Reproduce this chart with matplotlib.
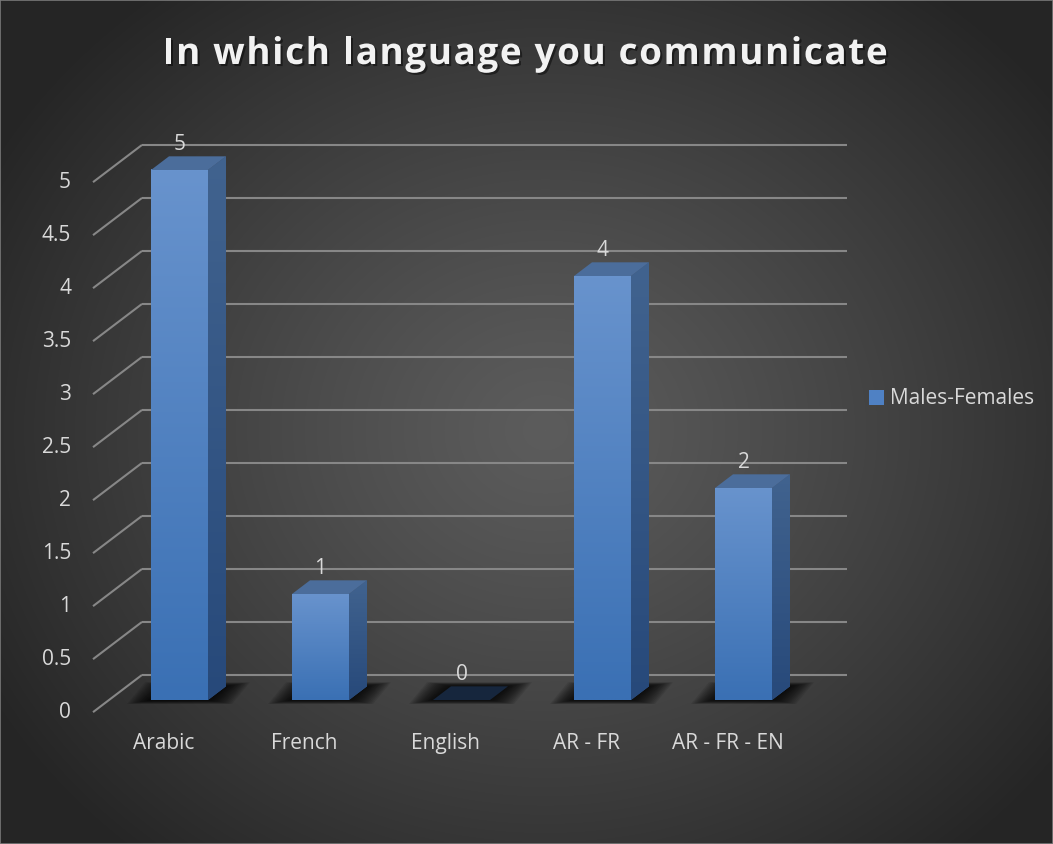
import numpy as np
import matplotlib.pyplot as plt
import matplotlib.patheffects as pe
from matplotlib.colors import to_rgb
from matplotlib.patches import Polygon, Patch, Rectangle

# chart data
categories = ['Arabic', 'French', 'English', 'AR - FR', 'AR - FR - EN']
values = [5, 1, 0, 4, 2]
series_name = 'Males-Females'
title = 'In which language you communicate'
yticks = np.arange(0, 5.5, 0.5)
ytick_labels = ['0', '0.5', '1', '1.5', '2', '2.5', '3', '3.5', '4', '4.5', '5']

plt.rcParams['font.family'] = ['Open Sans', 'DejaVu Sans']

W, H = 1053, 844
fig = plt.figure(figsize=(W / 100, H / 100), dpi=100)

# dark radial background
bg = fig.add_axes([0, 0, 1, 1])
bg.axis('off')
yy, xx = np.mgrid[0:H, 0:W]
r = np.sqrt(((xx - 545) / 640.0) ** 2 + ((yy - 430) / 560.0) ** 2)
r = np.clip(r, 0, 1)
inner, outer = 0x5c / 255, 0x25 / 255
shade = inner + (outer - inner) * r ** 1.2
bg.imshow(np.dstack([shade] * 3), extent=[0, 1, 0, 1], aspect='auto')
bg.set_xlim(0, 1)
bg.set_ylim(0, 1)
fig.patches.append(Rectangle((0, 0), 1, 1, transform=fig.transFigure, fill=False,
                             ec='#7a7a7a', lw=1.2))

# the bar front plane: one category per 141 px, one value unit per 106 px,
# category -0.5 at x=109 px and value 0 at 700 px from the top
XMIN, XMAX, YMAX = -0.5, 4.5, 5
PX = (XMAX - XMIN) / 705.0
PY = YMAX / 530.0
ax = fig.add_axes([0, 0, 1, 1])
ax.axis('off')
LIMX = (XMIN - 109 * PX, XMIN + (W - 109) * PX)
LIMY = ((700 - H) * PY, 700 * PY)
SLOPE = 0.76


def shift(x, y, d):
    # oblique depth: d pixels to the right and d*SLOPE up
    return (x + d * PX, y + d * SLOPE * PY)


BACK, FRONT, DEPTH = 33, -16, 18
grid_kw = dict(color='#878787', lw=1.5, solid_capstyle='butt', zorder=1)

for t in yticks:
    x0, y0 = shift(XMIN, t, BACK)
    x1, y1 = shift(XMAX, t, BACK)
    ax.plot([x0, x1], [y0, y1], **grid_kw)
    fx, fy = shift(XMIN, t, FRONT)
    ax.plot([fx, x0], [fy, y0], **grid_kw)

for t, lab in zip(yticks, ytick_labels):
    ax.annotate(lab, xy=shift(XMIN, t, FRONT), xytext=(-22, 0), textcoords='offset pixels',
                ha='right', va='center', fontsize=15, color='#d9d9d9')


def vgrad(top, bottom, n=128):
    top, bottom = np.array(to_rgb(top)), np.array(to_rgb(bottom))
    f = np.linspace(0, 1, n)[:, None]
    return (top * (1 - f) + bottom * f)[:, None, :]


front_grad = vgrad('#6893cd', '#3a70b4')
side_grad = vgrad('#41638f', '#27497a')
w = 57 * PX

for i, (cat, v) in enumerate(zip(categories, values)):
    xl, xr = i - w / 2, i + w / 2

    # soft floor shadow
    n = 14
    for k in range(n):
        e = 24 * (1 - k / n)
        ey = 4 * (1 - k / n)
        pts = [(xl - e * PX, -ey * PY), (xr + e * PX, -ey * PY),
               shift(xr + e * PX, ey * PY, DEPTH), shift(xl - e * PX, ey * PY, DEPTH)]
        ax.add_patch(Polygon(pts, closed=True, fc='black', ec='none', alpha=0.09, zorder=2))

    if v > 0:
        ax.imshow(front_grad, extent=(xl, xr, 0, v), aspect='auto', zorder=3,
                  interpolation='bilinear')
        side = Polygon([(xr, 0), shift(xr, 0, DEPTH), shift(xr, v, DEPTH), (xr, v)],
                       closed=True, fc='#33568a', ec='none', zorder=3)
        ax.add_patch(side)
        sx1, sy1 = shift(xr, v, DEPTH)
        im = ax.imshow(side_grad, extent=(xr, sx1, 0, sy1), aspect='auto', zorder=3.1,
                       interpolation='bilinear')
        im.set_clip_path(side)
        top_color = '#4b6d9b'
    else:
        top_color = '#16263d'

    ax.add_patch(Polygon([(xl, v), (xr, v), shift(xr, v, DEPTH), shift(xl, v, DEPTH)],
                         closed=True, fc=top_color, ec='none', zorder=3.2))

    ax.annotate(str(v), xy=(i, v), xytext=(0, 25), textcoords='offset pixels',
                ha='center', va='center', fontsize=15, color='#d9d9d9', zorder=4)
    ax.annotate(cat, xy=shift(i, 0, FRONT), xytext=(0, -31), textcoords='offset pixels',
                ha='center', va='center', fontsize=15, color='#d9d9d9')

ax.set_xlim(*LIMX)
ax.set_ylim(*LIMY)

fig.legend(handles=[Patch(facecolor='#4f81c4', edgecolor='none', label=series_name)],
           loc='center left', bbox_to_anchor=(869 / W, 1 - 399 / H), frameon=False,
           borderpad=0, borderaxespad=0, handlelength=0.72, handleheight=0.72,
           handletextpad=0.3, fontsize=15, labelcolor='#d9d9d9')

# spaced-out bold title, laid out one character at a time
renderer = fig.canvas.get_renderer()
title_kw = dict(fontsize=26.5, fontweight='bold', color='#f2f2f2', va='baseline',
                path_effects=[pe.withSimplePatchShadow(offset=(1.5, -1.5),
                                                       shadow_rgbFace='black', alpha=0.45)])
tracking = 1.7
probe = fig.text(0, 0, title, **title_kw)
full_w = probe.get_window_extent(renderer).width
probe.remove()
x = 525 - (full_w + tracking * (len(title) - 1)) / 2
for k, ch in enumerate(title):
    fig.text(x / W, 1 - 64 / H, ch, ha='left', **title_kw)
    probe = fig.text(0, 0, title[:k + 1] + '|', **title_kw)
    bar_probe = fig.text(0, 0, '|', **title_kw)
    adv = probe.get_window_extent(renderer).width - bar_probe.get_window_extent(renderer).width
    probe.remove()
    bar_probe.remove()
    x = 525 - (full_w + tracking * (len(title) - 1)) / 2 + adv + tracking * (k + 1)

fig.savefig('out.png', dpi=100)
